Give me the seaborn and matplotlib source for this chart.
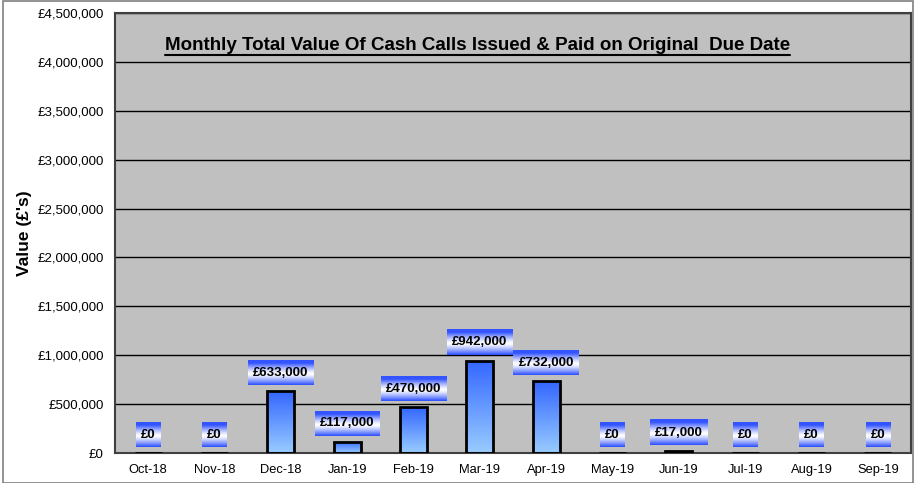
import numpy as np
import pandas as pd
import matplotlib
matplotlib.use("Agg")
import matplotlib.pyplot as plt
import seaborn as sns
from matplotlib.colors import LinearSegmentedColormap
from matplotlib.ticker import FuncFormatter, FixedLocator

# data
months = ["Oct-18", "Nov-18", "Dec-18", "Jan-19", "Feb-19", "Mar-19",
          "Apr-19", "May-19", "Jun-19", "Jul-19", "Aug-19", "Sep-19"]
values = [0, 0, 633000, 117000, 470000, 942000, 732000, 0, 17000, 0, 0, 0]
title = "Monthly Total Value Of Cash Calls Issued & Paid on Original  Due Date"
y_label = "Value (£'s)"

df = pd.DataFrame({"Month": months, "Value": values})

sns.set_style("white")
plt.rcParams["font.family"] = ["Liberation Sans", "DejaVu Sans"]
plt.rcParams["text.color"] = "black"
plt.rcParams["axes.labelcolor"] = "black"
plt.rcParams["xtick.color"] = "black"
plt.rcParams["ytick.color"] = "black"

fig = plt.figure(figsize=(9.16, 4.83), dpi=100)
ax = fig.add_axes([115 / 916, 1 - 453 / 483, 796 / 916, 440 / 483])
ax.set_facecolor("#c0c0c0")

sns.barplot(data=df, x="Month", y="Value", ax=ax, width=0.41,
            facecolor="none", edgecolor="black", linewidth=2, zorder=3)

ax.set_ylim(0, 4500000)
ax.set_xlim(-0.5, len(months) - 0.5)
ax.yaxis.set_major_locator(FixedLocator(np.arange(0, 4500001, 500000)))
ax.yaxis.set_major_formatter(FuncFormatter(lambda v, p: "£{:,.0f}".format(v)))
ax.grid(axis="y", color="black", linewidth=1, zorder=0)
ax.set_axisbelow(True)
for s in ax.spines.values():
    s.set_color("#404040")
    s.set_linewidth(1.5)

ax.tick_params(axis="y", which="major", direction="out", length=5, width=1,
               color="black", labelsize=9.5, pad=3)
ax.tick_params(axis="x", which="major", length=0, labelsize=9.3, pad=8)
ax.set_xticks(np.arange(-0.5, len(months), 1), minor=True)
ax.tick_params(axis="x", which="minor", direction="out", length=5, width=1, color="black")
ax.set_xlabel("")
ax.set_ylabel(y_label, fontsize=12.5, fontweight="bold", labelpad=4)

# gradient fill for bars
bar_cmap = LinearSegmentedColormap.from_list("bar", ["#99ccff", "#3366ff"])
grad = np.linspace(0, 1, 256).reshape(-1, 1)
for bar in ax.patches:
    x0, y0 = bar.get_x(), bar.get_y()
    w, h = bar.get_width(), bar.get_height()
    if h <= 0:
        continue
    im = ax.imshow(grad, cmap=bar_cmap, origin="lower", aspect="auto",
                   extent=[x0, x0 + w, y0, y0 + h], zorder=2.5)
    im.set_clip_path(bar)

ax.set_xlim(-0.5, len(months) - 0.5)
ax.set_ylim(0, 4500000)

# value labels with gradient boxes
t = np.linspace(0, 1, 64)
mix = np.clip(np.abs(t - 0.55) * 2.3, 0, 1) ** 1.3
blue = np.array([0.2, 0.33, 1.0])
white = np.array([1.0, 1.0, 1.0])
box_img = (white[None, :] * (1 - mix[:, None]) + blue[None, :] * mix[:, None]).reshape(-1, 1, 3)

fig.canvas.draw()
renderer = fig.canvas.get_renderer()
inv = ax.transData.inverted()
for i, v in enumerate(values):
    px, py = ax.transData.transform((i, v))
    cy = py + 18.5
    txt = ax.text(i, inv.transform((px, cy))[1], "£{:,.0f}".format(v),
                  ha="center", va="center", fontsize=9.5, fontweight="bold",
                  color="black", zorder=6)
    bb = txt.get_window_extent(renderer)
    half_w = bb.width / 2 + 5
    (dx0, dy0) = inv.transform((px - half_w, cy - 12.5))
    (dx1, dy1) = inv.transform((px + half_w, cy + 12.5))
    ax.imshow(box_img, origin="upper", aspect="auto",
              extent=[dx0, dx1, dy0, dy1], zorder=5)

ax.set_xlim(-0.5, len(months) - 0.5)
ax.set_ylim(0, 4500000)

# title with underline
tt = ax.text(0.455, 0.925, title, transform=ax.transAxes, ha="center", va="center",
             fontsize=13.5, fontweight="bold", color="black", zorder=6)
fig.canvas.draw()
tb = tt.get_window_extent(fig.canvas.get_renderer())
fx0, fy = fig.transFigure.inverted().transform((tb.x0, tb.y0 - 1))
fx1, _ = fig.transFigure.inverted().transform((tb.x1, tb.y0 - 1))
fig.add_artist(plt.Line2D([fx0, fx1], [fy, fy], color="black", linewidth=1.5,
                          transform=fig.transFigure))

# outer frame
fig.add_artist(plt.Rectangle((0.003, 0.0), 0.994, 0.998, fill=False,
                             edgecolor="#808080", linewidth=1.2,
                             transform=fig.transFigure))

fig.savefig("out.png", dpi=100)
